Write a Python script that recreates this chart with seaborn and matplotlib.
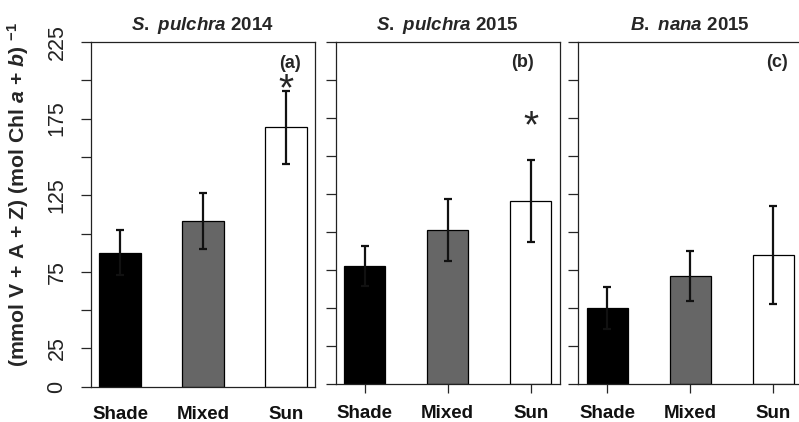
import numpy as np
import pandas as pd
import seaborn as sns
import matplotlib.pyplot as plt

# treatments and bar colours
groups = ['Shade', 'Mixed', 'Sun']
bar_colors = ['#000000', '#666666', '#ffffff']

# V+A+Z pool per chlorophyll, means and error
pulchra14_mean = [87.5, 108.2, 169.3]
pulchra14_err = [14.8, 18.0, 24.0]
pulchra15_mean = [77.6, 101.1, 120.0]
pulchra15_err = [13.2, 20.6, 27.0]
nana15_mean = [50.0, 70.9, 84.7]
nana15_err = [13.8, 16.5, 32.5]

panel_titles = [r'$\mathit{S.\ pulchra}$ 2014', r'$\mathit{S.\ pulchra}$ 2015',
                r'$\mathit{B.\ nana}$ 2015']
panel_tags = ['(a)', '(b)', '(c)']
star_y = [200, 175, None]

ytick_vals = list(range(0, 226, 25))
ytick_text = ['0', '25', '', '75', '', '125', '', '175', '', '225']

sns.set_style('ticks')
plt.rcParams['font.family'] = ['Liberation Sans', 'DejaVu Sans']
plt.rcParams['mathtext.fontset'] = 'custom'
plt.rcParams['mathtext.rm'] = 'Liberation Sans:bold'
plt.rcParams['mathtext.bf'] = 'Liberation Sans:bold'
plt.rcParams['mathtext.it'] = 'Liberation Sans:italic:bold'
plt.rcParams['mathtext.default'] = 'rm'

W, H = 799, 422
fig = plt.figure(figsize=(W / 100, H / 100), dpi=100)

# panel boxes in pixels: left, top, right, bottom
boxes = [(91, 42, 315, 386.7), (335.7, 41.7, 559.7, 383.7), (578.3, 41.7, 802.3, 383.7)]

means = [pulchra14_mean, pulchra15_mean, nana15_mean]
errs = [pulchra14_err, pulchra15_err, nana15_err]

for i in range(3):
    l, t, r, b = boxes[i]
    ax = fig.add_axes([l / W, 1 - b / H, (r - l) / W, (b - t) / H])
    df = pd.DataFrame({'group': groups, 'value': means[i]})
    sns.barplot(data=df, x='group', y='value', hue='group', palette=bar_colors,
                legend=False, width=0.5, edgecolor='black', linewidth=0.9,
                saturation=1, ax=ax)
    ax.errorbar(np.arange(3), means[i], yerr=errs[i], fmt='none', ecolor='#111111',
                elinewidth=1.6, capsize=2.9, capthick=1.6, zorder=5)
    ax.set_xlim(-0.35, 2.35)
    ax.set_ylim(0, 225)
    ax.set_xlabel('')
    ax.set_ylabel('')
    for sp in ax.spines.values():
        sp.set_visible(True)
        sp.set_linewidth(0.9)
        sp.set_color('#222222')
    ax.set_yticks(ytick_vals)
    if i == 0:
        ax.set_yticklabels(ytick_text, rotation=90, va='center', fontsize=15.5,
                           color='#222222')
        ax.tick_params(axis='x', length=0, pad=14)
    else:
        ax.set_yticklabels([])
        ax.tick_params(axis='x', length=6.5, width=0.9, pad=9)
    ax.tick_params(axis='y', length=7.5, width=0.9, pad=9.5)
    ax.set_xticks(range(3))
    ax.set_xticklabels(groups, fontsize=13.5, fontweight='bold', color='#111111')
    ax.set_title(panel_titles[i], fontsize=13.5, fontweight='bold', pad=8.5)
    tag_x = [2.05, 1.9, 2.05][i]
    ax.text(tag_x, 211, panel_tags[i], ha='center', va='center', fontsize=13,
            fontweight='bold')
    if star_y[i] is not None:
        # the glyph sits high in its box, so nudge it down
        ax.text(2, star_y[i] - 6.6, '*', ha='center', va='center', fontsize=28)

fig.text(18 / W, 1 - 194 / H,
         r'(mmol V + A + Z) (mol Chl $\mathit{a}$ + $\mathit{b}$) $^{-1}$',
         rotation=90, ha='center', va='center', fontsize=15.3, fontweight='bold')

plt.savefig('out.png', dpi=100)
